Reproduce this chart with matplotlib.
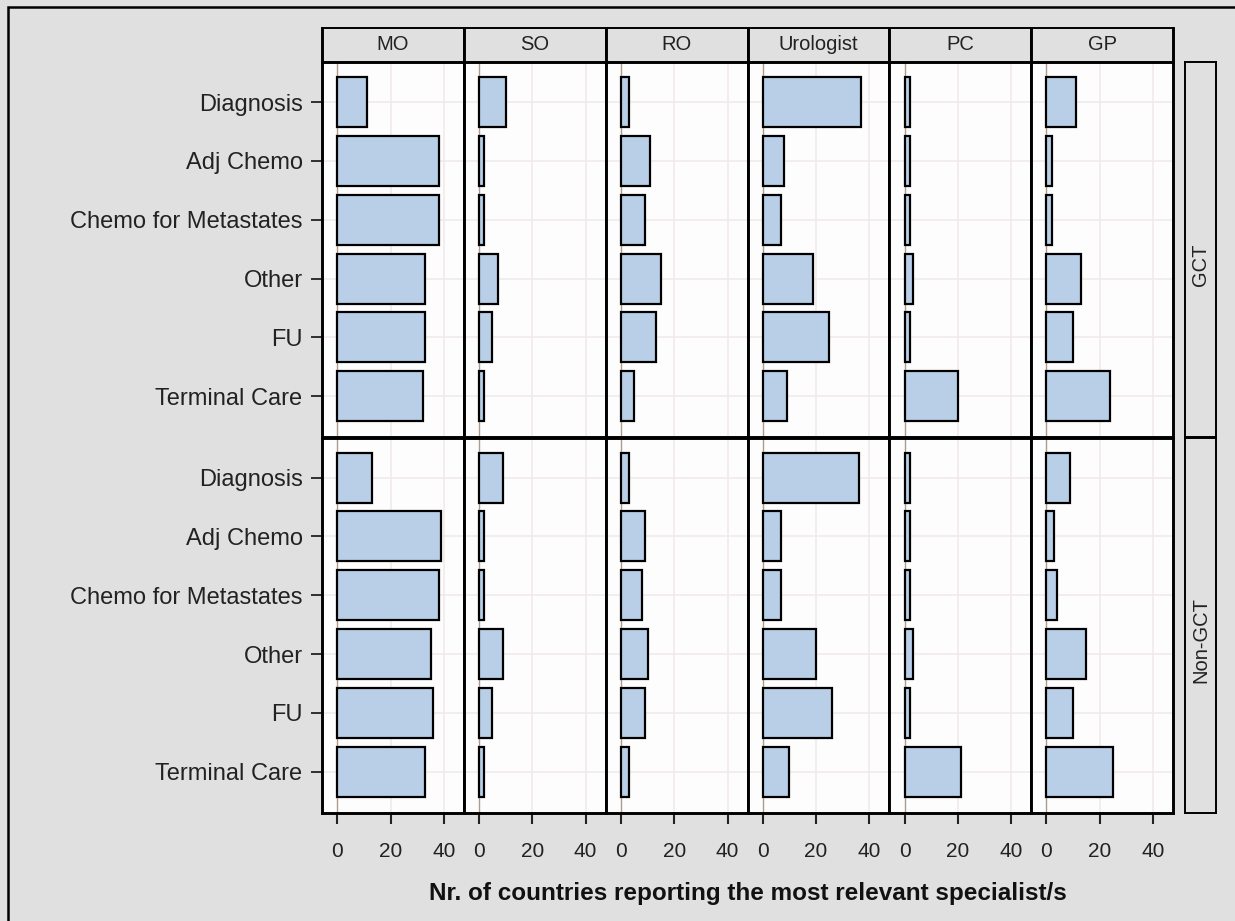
import matplotlib
matplotlib.use('Agg')
import matplotlib.pyplot as plt
from matplotlib.patches import Rectangle
import numpy as np

plt.rcParams['font.family'] = ['Liberation Sans', 'DejaVu Sans']

categories = ['Diagnosis', 'Adj Chemo', 'Chemo for Metastates', 'Other', 'FU', 'Terminal Care']
specialists = ['MO', 'SO', 'RO', 'Urologist', 'PC', 'GP']
groups = ['GCT', 'Non-GCT']

# GCT counts per specialist (order follows categories)
gct_mo = [11, 38, 38, 33, 33, 32]
gct_so = [10, 2, 2, 7, 5, 2]
gct_ro = [3, 11, 9, 15, 13, 5]
gct_uro = [37, 8, 7, 19, 25, 9]
gct_pc = [2, 2, 2, 3, 2, 20]
gct_gp = [11, 2, 2, 13, 10, 24]

# Non-GCT counts per specialist
ngct_mo = [13, 39, 38, 35, 36, 33]
ngct_so = [9, 2, 2, 9, 5, 2]
ngct_ro = [3, 9, 8, 10, 9, 3]
ngct_uro = [36, 7, 7, 20, 26, 10]
ngct_pc = [2, 2, 2, 3, 2, 21]
ngct_gp = [9, 3, 4, 15, 10, 25]

xticks = [0, 20, 40]

rows = [[gct_mo, gct_so, gct_ro, gct_uro, gct_pc, gct_gp],
        [ngct_mo, ngct_so, ngct_ro, ngct_uro, ngct_pc, ngct_gp]]

W, H = 1235, 921
bg = '#e0e0e0'
bar_color = '#b9cfe8'
grid_color = '#f2eaea'


def px(x0, y0, x1, y1):
    # pixel box -> figure fraction [left, bottom, width, height]
    return [x0 / W, 1 - y1 / H, (x1 - x0) / W, (y1 - y0) / H]


def main():
    fig = plt.figure(figsize=(W / 100, H / 100), dpi=100, facecolor=bg)
    fig.patches.append(Rectangle((8, -20), W + 50, H - 7 + 20, transform=None,
                                 fill=False, edgecolor='black', linewidth=1.8))

    left, right, top, bottom = 322, 1173, 62, 813
    cw = (right - left) / len(specialists)
    rh = (bottom - top) / len(groups)
    y = np.arange(len(categories))

    for r, grp in enumerate(groups):
        for c, spec in enumerate(specialists):
            x0 = left + c * cw
            y0 = top + r * rh
            ax = fig.add_axes(px(x0, y0, x0 + cw, y0 + rh))
            ax.set_facecolor('#fdfdfd')
            for v in xticks[1:]:
                ax.axvline(v, color=grid_color, linewidth=1.2, zorder=0)
            for yy in y:
                ax.axhline(yy, color=grid_color, linewidth=1.2, zorder=0)
            ax.axvline(0, color='#b09a8c', linewidth=1.0, zorder=1)
            ax.barh(y, rows[r][c], height=0.85, color=bar_color,
                    edgecolor='black', linewidth=1.6, zorder=2)
            ax.set_xlim(-5.7, 47.5)
            ax.set_ylim(len(categories) - 0.3, -0.68)
            for s in ax.spines.values():
                s.set_linewidth(2.1)
                s.set_color('black')
            ax.set_xticks(xticks)
            ax.set_yticks(y)
            ax.tick_params(axis='x', direction='out', length=8, width=1.5,
                           labelsize=15, pad=13, colors='#222222')
            ax.tick_params(axis='y', direction='out', length=8, width=1.3,
                           labelsize=17, pad=6, colors='#222222')
            if r == len(groups) - 1:
                ax.set_xticklabels([str(v) for v in xticks])
            else:
                ax.tick_params(axis='x', length=0)
                ax.set_xticklabels([])
            if c == 0:
                ax.set_yticklabels(categories)
            else:
                ax.tick_params(axis='y', length=0)
                ax.set_yticklabels([])

            if r == 0:
                sax = fig.add_axes(px(x0, 28, x0 + cw, top))
                sax.set_facecolor(bg)
                sax.set_xticks([])
                sax.set_yticks([])
                for s in sax.spines.values():
                    s.set_linewidth(1.4)
                sax.spines['left'].set_linewidth(2.1)
                sax.spines['right'].set_linewidth(2.1)
                sax.text(0.5, 0.5, spec, ha='center', va='center',
                         fontsize=14.5, color='#222222', transform=sax.transAxes)

        rax = fig.add_axes(px(1185, top + r * rh, 1216, top + (r + 1) * rh))
        rax.set_facecolor(bg)
        rax.set_xticks([])
        rax.set_yticks([])
        for s in rax.spines.values():
            s.set_linewidth(1.4)
        rax.text(0.5, 0.46, grp, ha='center', va='center', rotation=90,
                 fontsize=14.5, color='#222222', transform=rax.transAxes)

    fig.text((left + right) / 2 / W, 1 - 893 / H,
             'Nr. of countries reporting the most relevant specialist/s',
             ha='center', va='center', fontsize=17.5, fontweight='bold',
             color='#111111')

    fig.savefig('out.png', dpi=100, facecolor=bg)


if __name__ == '__main__':
    main()
